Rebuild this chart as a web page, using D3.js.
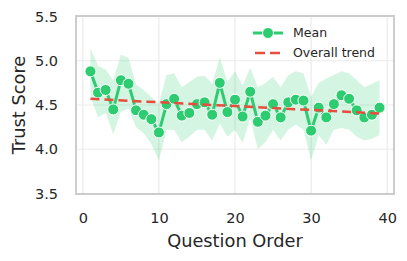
<!DOCTYPE html>
<html>
<head>
<meta charset="utf-8">
<script src="https://cdn.jsdelivr.net/npm/d3@7"></script>
<style>
  body { margin: 0; background: #fff; }
  svg { font-family: "DejaVu Sans", sans-serif; }
</style>
</head>
<body>
<svg id="chart" width="407" height="261"></svg>
<script>
// question order 1..39
const questions = d3.range(1, 40);
const meanScore = [4.88, 4.64, 4.67, 4.45, 4.78, 4.74, 4.44, 4.39, 4.34, 4.19,
                   4.51, 4.57, 4.38, 4.41, 4.51, 4.53, 4.39, 4.75, 4.42, 4.56,
                   4.37, 4.65, 4.31, 4.38, 4.51, 4.36, 4.53, 4.56, 4.55, 4.21,
                   4.47, 4.36, 4.51, 4.61, 4.57, 4.44, 4.36, 4.39, 4.47];
const upperBand = [5.14, 4.94, 4.90, 4.78, 5.07, 5.03, 4.73, 4.67, 4.59, 4.52,
                   4.84, 4.86, 4.70, 4.76, 4.82, 4.83, 4.74, 5.04, 4.76, 4.88,
                   4.72, 4.92, 4.70, 4.75, 4.82, 4.70, 4.84, 4.88, 4.86, 4.59,
                   4.75, 4.80, 4.84, 4.88, 4.86, 4.78, 4.70, 4.74, 4.78];
const lowerBand = [4.60, 4.36, 4.41, 4.17, 4.42, 4.46, 4.25, 4.18, 4.06, 3.87,
                   4.22, 4.22, 4.08, 4.14, 4.22, 4.22, 4.10, 4.29, 4.14, 4.22,
                   4.07, 4.35, 4.00, 4.08, 4.22, 4.10, 4.22, 4.28, 4.22, 3.87,
                   4.16, 4.05, 4.22, 4.24, 4.22, 4.14, 4.10, 4.12, 4.16];
const trendX = [1, 39];
const trendY = [4.57, 4.405];
const xTicks = [0, 10, 20, 30, 40];
const yTicks = [3.5, 4.0, 4.5, 5.0, 5.5];

const green = "#2ecc71", red = "#e74c3c", ink = "#262626";
const svg = d3.select("#chart");
const margin = {left: 76, right: 13, top: 16, bottom: 67};
const width = 407, height = 261;

const x = d3.scaleLinear().domain([-0.9, 40.9]).range([margin.left, width - margin.right]);
const y = d3.scaleLinear().domain([3.5, 5.5]).range([193.5, 16.5]);

// grid
svg.append("g").selectAll("line").data(xTicks).join("line")
    .attr("x1", d => x(d)).attr("x2", d => x(d))
    .attr("y1", margin.top).attr("y2", height - margin.bottom)
    .attr("stroke", "#ebebeb").attr("stroke-width", 1.2);
svg.append("g").selectAll("line").data(yTicks).join("line")
    .attr("x1", margin.left).attr("x2", width - margin.right)
    .attr("y1", d => y(d)).attr("y2", d => y(d))
    .attr("stroke", "#ebebeb").attr("stroke-width", 1.2);

// confidence band
const pts = questions.map((q, i) => ({q, m: meanScore[i], lo: lowerBand[i], hi: upperBand[i]}));
svg.append("path").datum(pts)
    .attr("d", d3.area().x(d => x(d.q)).y0(d => y(d.lo)).y1(d => y(d.hi)))
    .attr("fill", green).attr("fill-opacity", 0.2);

// mean line + markers
svg.append("path").datum(pts)
    .attr("d", d3.line().x(d => x(d.q)).y(d => y(d.m)))
    .attr("fill", "none").attr("stroke", green).attr("stroke-width", 3);
svg.append("g").selectAll("circle").data(pts).join("circle")
    .attr("cx", d => x(d.q)).attr("cy", d => y(d.m)).attr("r", 5.5)
    .attr("fill", green).attr("stroke", "#fff").attr("stroke-width", 1);

// overall trend
svg.append("path").datum(trendX.map((t, i) => [t, trendY[i]]))
    .attr("d", d3.line().x(d => x(d[0])).y(d => y(d[1])))
    .attr("stroke", red).attr("stroke-width", 2.5).attr("stroke-dasharray", "9,5")
    .attr("fill", "none");

// frame
svg.append("rect")
    .attr("x", margin.left).attr("y", margin.top)
    .attr("width", width - margin.left - margin.right)
    .attr("height", height - margin.top - margin.bottom)
    .attr("fill", "none").attr("stroke", "#cccccc").attr("stroke-width", 2);

// axes
const xAxis = svg.append("g").attr("transform", `translate(0,${height - margin.bottom})`)
    .call(d3.axisBottom(x).tickValues(xTicks).tickSize(0).tickPadding(19));
const yAxis = svg.append("g").attr("transform", `translate(${margin.left},0)`)
    .call(d3.axisLeft(y).tickValues(yTicks).tickFormat(d3.format(".1f")).tickSize(0).tickPadding(18));
[xAxis, yAxis].forEach(a => {
    a.select(".domain").remove();
    a.selectAll("text").attr("fill", ink).style("font-size", "14.5px")
        .style("font-family", "DejaVu Sans");
});

// axis labels
svg.append("text").attr("x", x(20)).attr("y", 247)
    .attr("text-anchor", "middle").attr("fill", ink).style("font-size", "17.8px")
    .text("Question Order");
svg.append("text").attr("transform", `translate(25,${(y(3.5) + y(5.5)) / 2}) rotate(-90)`)
    .attr("text-anchor", "middle").attr("fill", ink).style("font-size", "17.8px")
    .text("Trust Score");

// legend
const legend = svg.append("g");
legend.append("line").attr("x1", 253).attr("x2", 283).attr("y1", 33).attr("y2", 33)
    .attr("stroke", green).attr("stroke-width", 3);
legend.append("circle").attr("cx", 268).attr("cy", 33).attr("r", 5.5)
    .attr("fill", green).attr("stroke", "#fff").attr("stroke-width", 1);
legend.append("line").attr("x1", 255).attr("x2", 280).attr("y1", 53).attr("y2", 53)
    .attr("stroke", red).attr("stroke-width", 2.5).attr("stroke-dasharray", "10,5");
legend.append("text").attr("x", 293).attr("y", 33).attr("dy", "0.35em")
    .attr("fill", ink).style("font-size", "12.5px").text("Mean");
legend.append("text").attr("x", 293).attr("y", 53).attr("dy", "0.35em")
    .attr("fill", ink).style("font-size", "12.5px").text("Overall trend");
</script>
</body>
</html>
